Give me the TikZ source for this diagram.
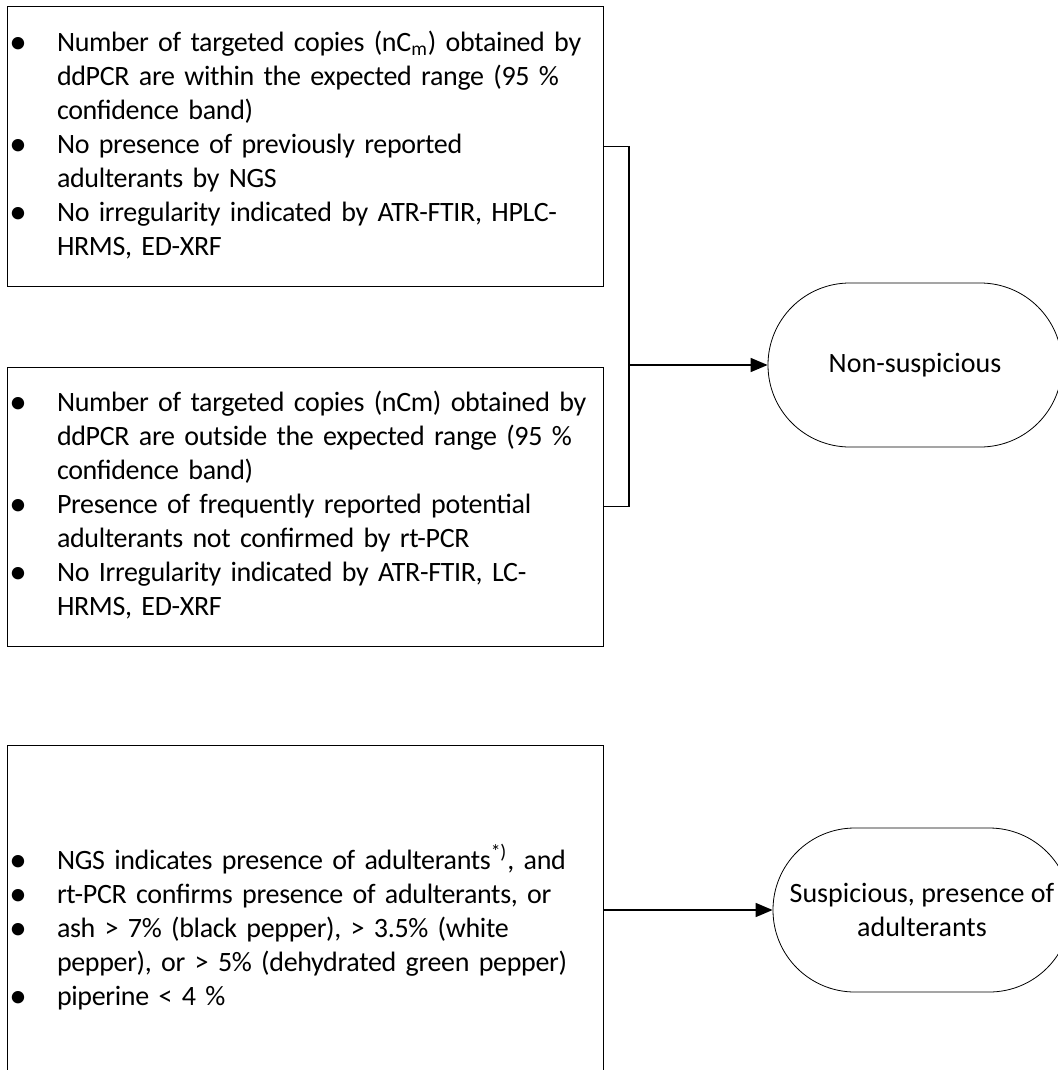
\documentclass[tikz,border=0pt]{standalone}
\usepackage{fontspec}
\usepackage{graphicx}
\setmainfont{Carlito}
\newfontfamily\critfont{Carlito}[LetterSpace=-1.2]
\usetikzlibrary{positioning, calc, arrows.meta}
\newcommand{\bul}{\hspace*{1.2pt}\raisebox{-0.07em}{\scalebox{1.25}{\textbullet}}}

\begin{document}
\begin{tikzpicture}[x=0.5pt, y=-0.5pt,
    font=\fontsize{14pt}{17pt}\selectfont,
    crit/.style={draw, line width=0.5pt, inner sep=0pt, minimum width=298pt, text width=298pt, align=left, font=\critfont\fontsize{14pt}{17pt}\selectfont},
    esito/.style={draw, line width=0.4pt, rounded corners=40.9pt, minimum width=147pt, minimum height=82pt, align=center, inner sep=0pt},
    conn/.style={line width=0.8pt},
    arr/.style={conn, -{Triangle[length=8.5pt, width=7pt]}}]
    \useasboundingbox (0,0) rectangle (1057,1070);
    %riquadri dei criteri
    \node[crit, minimum height=139.5pt] (box1) at (305,146.5) {\begin{tabular}{@{}p{25pt}@{}l@{}}
        \bul & Number of targeted copies (nC\textsubscript{m}) obtained by\\
        & ddPCR are within the expected range (95 \%\\
        & confidence band)\\
        \bul & No presence of previously reported\\
        & adulterants by NGS\\
        \bul & No irregularity indicated by ATR-FTIR, HPLC-\\
        & HRMS, ED-XRF
    \end{tabular}};
    \node[crit, minimum height=139.5pt] (box2) at (305,506.5) {\begin{tabular}{@{}p{25pt}@{}l@{}}
        \bul & Number of targeted copies (nCm) obtained by\\
        & ddPCR are outside the expected range (95 \%\\
        & confidence band)\\
        \bul & Presence of frequently reported potential\\
        & adulterants not confirmed by rt-PCR\\
        \bul & No Irregularity indicated by ATR-FTIR, LC-\\
        & HRMS, ED-XRF
    \end{tabular}};
    \node[crit, minimum height=185pt] (box3) at (305,930) {\begin{tabular}{@{}p{25pt}@{}l@{}}
        \bul & NGS indicates presence of adulterants\textsuperscript{*)}, and\\
        \bul & rt-PCR confirms presence of adulterants, or\\
        \bul & ash > 7\% (black pepper), > 3.5\% (white\\
        & pepper), or > 5\% (dehydrated green pepper)\\
        \bul & piperine < 4 \%
    \end{tabular}};
    %esiti
    \node[esito] (nonsusp) at (915,365) {Non-suspicious};
    \node[esito, minimum width=149pt] (susp) at (922,910) {Suspicious, presence of\\adulterants};
    %collegamenti
    \coordinate (joint) at (629,365);
    \draw[conn] (box1.east) -| (joint) |- (box2.east);
    \draw[arr] (joint) -- (nonsusp.west);
    \draw[arr] (box3.east |- susp.west) -- (susp.west);
\end{tikzpicture}
\end{document}
